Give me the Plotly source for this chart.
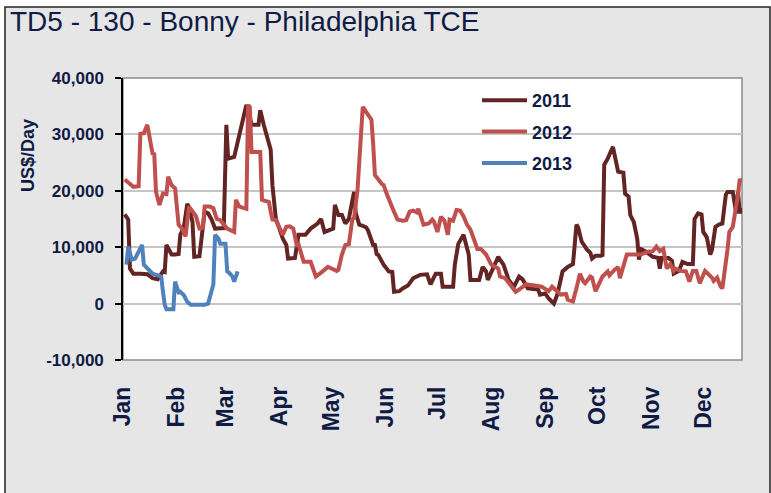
import plotly.graph_objects as go

# ---------------- data (x = day of year, y = US$/Day) ----------------
days_2011 = [1, 3, 4, 6, 10, 14, 17, 19, 20, 23, 24, 25, 28, 30, 32, 33, 35, 37, 38, 40, 41, 44, 45, 47, 49, 51, 53, 56, 58,
             59.5, 60.5, 64, 67, 71, 72, 74, 78, 79, 81, 83, 85, 86, 87, 88, 90, 92, 94, 95, 99, 101, 105, 108, 112, 114, 116,
             119, 121, 122, 124, 126, 128, 130, 132, 133, 134, 136, 138, 140, 141, 144, 145, 146, 147, 150, 153, 155, 156,
             159, 161, 164, 167, 171, 175, 177, 180, 183, 184, 190, 191, 193, 196, 199, 200, 205, 207, 209, 210, 213, 216,
             217, 219, 222, 225, 228, 230, 233, 236, 239, 240, 243, 245, 248, 250, 253, 256, 259, 260, 261, 262, 264, 267,
             269, 270, 272, 275, 276, 277, 279, 282, 285, 288, 289, 291, 292, 294, 296, 297, 298, 301, 302, 305, 308, 309,
             310, 314, 316, 317, 320, 322, 325, 328, 329, 331, 333, 334, 336, 337, 338, 339, 341, 343, 345, 347, 348, 351,
             353, 354, 355, 356]
vals_2011 = [15800, 14900, 6200, 5300, 5300, 5200, 4500, 4400, 4300, 5700, 5600, 10400, 8700, 8700, 8800, 12200, 13500, 17700,
             17000, 14500, 8300, 8400, 11500, 16300, 16000, 14900, 13300, 13400, 13400,
             31700, 25700, 26000, 29900, 35200, 34500, 31700, 31700, 34300, 31700, 29200, 27300, 21000, 17500, 15000, 13300,
             11500, 10400, 8000, 8100, 12200, 12200, 13300, 14200, 15000, 12700,
             13000, 13300, 17500, 15700, 15700, 14200, 15000, 18000, 19800, 16000, 14000, 13800, 13500, 13000, 10400, 10400,
             8800, 8600, 6900, 5700, 5600, 2100,
             2200, 2700, 3200, 4500, 5100, 5200, 3400, 5300, 5300, 3000, 3000, 6900, 10600, 12200, 8700, 4200, 4200, 6500,
             5700, 4200, 6200, 8300,
             7800, 6900, 4200, 3000, 4800, 4300, 2700, 2600, 2500, 1600, 1800, 900, 0, 1600, 5700, 6500, 7000, 10400, 14000,
             13500, 11000, 9600,
             9000, 8000, 8500, 8500, 8600, 24600, 25700, 27800, 23400, 23200, 19500, 19000, 15700, 14500, 11500, 7800, 9700,
             9200, 9000, 8300, 8100, 6200,
             8100, 8100, 7600, 5300, 5800, 7400, 7000, 7000, 15000, 16000, 15800, 12700, 11800, 10600, 8700, 9500, 13600,
             14000, 14200, 19300, 19800, 19800,
             16000, 19800, 16000, 17000]

days_2012 = [1, 4, 6, 9, 10, 12, 14, 17, 18, 19, 21, 23, 25, 26, 28, 30, 32, 34, 36, 38, 40, 42, 44, 46, 47, 50, 52, 54, 56,
             60, 64, 65, 67, 70, 71, 72, 73, 74, 77, 79, 80, 83, 84, 85, 86, 88, 90, 92, 94, 96, 98, 100, 101, 104, 108, 111,
             114, 118, 121, 123, 124, 126, 128, 130, 132, 133, 135, 137, 138, 141, 143, 144, 145, 149, 150, 152, 154, 156,
             158, 161, 163, 165, 167, 169, 170, 173, 176, 178, 179, 181, 183, 185, 187, 188, 190, 192, 194, 196, 198, 200,
             204, 206, 209, 212, 216, 217, 220, 226, 228, 232, 237, 241, 245, 247, 252, 255, 256, 259, 261, 263, 265, 266,
             269, 270, 272, 275, 276, 279, 280, 283, 285, 286, 288, 290, 296, 298, 302, 305, 307, 309, 311, 313, 315, 317,
             318, 321, 324, 325, 326, 328, 330, 332, 335, 337, 339, 340, 342, 344, 345, 348, 349, 351, 352, 354, 355, 356]
vals_2012 = [22000, 21200, 20700, 20800, 30100, 30200, 31700, 26600, 26500, 19800, 17500, 19500, 19400, 22500, 21000, 20400,
             14000, 13300, 11900, 17200, 16300, 15500, 13300, 13400, 17200, 17200, 16900, 15000, 14800,
             13300, 12700, 18400, 17200, 17000, 16800, 35200, 34900, 26900, 26900, 26900, 18400, 18200, 18000, 16300,
             14900, 14800, 13300, 12200, 13600, 13700, 13300, 10400, 10500, 7400, 7400,
             4800, 5500, 6500, 6100, 5800, 6000, 8700, 10400, 10500, 14900, 15200, 20200, 30000, 34900, 33500, 32600, 28300,
             22800, 21200, 21000, 19300, 18000, 16300, 14900, 14700, 14800, 16300, 16500, 16200, 16800, 14000, 14200,
             14900, 14500, 12700, 15400, 14700, 12200, 14900, 14700, 16600, 16500, 15500, 14000, 13100, 9700, 9700, 8700,
             6900, 6200, 4800, 4500, 2100, 2500, 3400, 3200, 3000, 2200, 3000, 1600, 1700, 700, 400, 2700, 5300, 3900,
             3600, 4800, 4600, 2200, 4200, 4800, 5700, 5000, 6000, 6500, 4500, 6500, 8700, 8700, 8700, 9200, 9300, 10100,
             9300, 9700, 6200, 7000, 5800, 6200, 5800, 5700, 4800, 3900, 5800, 5800, 3600, 5800, 5200, 4600, 4000, 4600,
             3000, 2700, 9700, 12700, 13600, 15400, 19300, 22100, 21500, 18500]

days_2013 = [2, 3, 5, 7, 9, 11, 12, 14, 17, 20, 22, 23, 24, 25, 29, 29.5, 30, 32, 33, 35, 37, 39, 42, 45, 47, 49, 52, 53,
             55, 56, 59, 60, 61, 63, 64, 66]
vals_2013 = [6900, 10100, 7800, 8000, 9200, 10400, 6900, 6200, 5300, 5000, 4800, 2100, -200, -1000, -1000, 1600, 3900, 2000,
             2100, 1500, 300, -200, -200, -100, -200, 0, 3400, 12200, 11500, 10600, 10600, 5700, 5500, 4800, 3900, 5700]

series_names = ["2011", "2012", "2013"]
month_days = [0, 31, 59, 90, 120, 151, 181, 212, 243, 273, 304, 334]
month_labels = ["Jan", "Feb", "Mar", "Apr", "May", "Jun", "Jul", "Aug", "Sep", "Oct", "Nov", "Dec"]
y_ticks = [-10000, 0, 10000, 20000, 30000, 40000]
y_tick_labels = ["-10,000", "0", "10,000", "20,000", "30,000", "40,000"]

# ---------------- styling ----------------
NAVY = "#0F1B44"
colors = ["#632523", "#C0504D", "#4F81BD"]
FONT = "Liberation Sans, Arial, sans-serif"

fig = go.Figure()
for name, xs, ys, c in zip(series_names, [days_2011, days_2012, days_2013], [vals_2011, vals_2012, vals_2013], colors):
    fig.add_trace(go.Scatter(x=xs, y=ys, mode="lines", name=name, legendgroup=name,
                             line=dict(color=c, width=4)))

W, H = 771, 493
L, R, T, B = 123, 29, 78, 133
pw, ph = W - L - R, H - T - B

def px_x(p):
    return (p - L) / pw

def px_y(p):
    return (H - B - p) / ph

fig.update_layout(
    width=W, height=H,
    margin=dict(l=L, r=R, t=T, b=B),
    paper_bgcolor="white",
    plot_bgcolor="rgba(0,0,0,0)",
    font=dict(family=FONT, color=NAVY),
    title=dict(text="TD5 - 130 - Bonny - Philadelphia TCE", x=10 / W, xanchor="left", xref="container",
               y=1 - 11 / H, yanchor="top", font=dict(size=28, color=NAVY, family=FONT)),
    showlegend=True,
    legend=dict(x=px_x(477), y=px_y(82), xanchor="left", yanchor="top", bgcolor="rgba(0,0,0,0)",
                font=dict(size=18, color=NAVY, family=FONT, weight="bold"), tracegroupgap=5, itemwidth=45),
    xaxis=dict(range=[0, 356.3], tickvals=month_days, ticktext=month_labels, tickangle=-90,
               showgrid=False, zeroline=False, showline=False, ticks="",
               tickfont=dict(size=23, color=NAVY, family=FONT, weight="bold"), ticklabelstandoff=21),
    yaxis=dict(range=[-10000, 40000], tickvals=y_ticks, ticktext=y_tick_labels,
               showgrid=True, gridcolor="#C6C6C6", gridwidth=1.5, zeroline=False,
               showline=True, linecolor="black", linewidth=1.5, ticks="outside", ticklen=6, tickcolor="black",
               tickwidth=1.5, tickfont=dict(size=17, color=NAVY, family=FONT, weight="bold"), ticklabelstandoff=8),
    shapes=[
        dict(type="rect", xref="paper", yref="paper", x0=px_x(5), x1=px_x(770), y0=px_y(520), y1=px_y(7),
             fillcolor="#E6E6E6", line=dict(color="#222222", width=1.5), layer="below"),
        dict(type="rect", xref="paper", yref="paper", x0=0, x1=1, y0=0, y1=1,
             fillcolor="white", line=dict(color="#8C8C8C", width=1.5), layer="below"),
    ],
    annotations=[
        dict(text="US$/Day", xref="paper", yref="paper", x=px_x(28), y=px_y(156), xanchor="center", yanchor="middle",
             textangle=-90, showarrow=False, font=dict(size=18, color=NAVY, family=FONT, weight="bold"))
    ],
)

fig.write_html("out.html")
